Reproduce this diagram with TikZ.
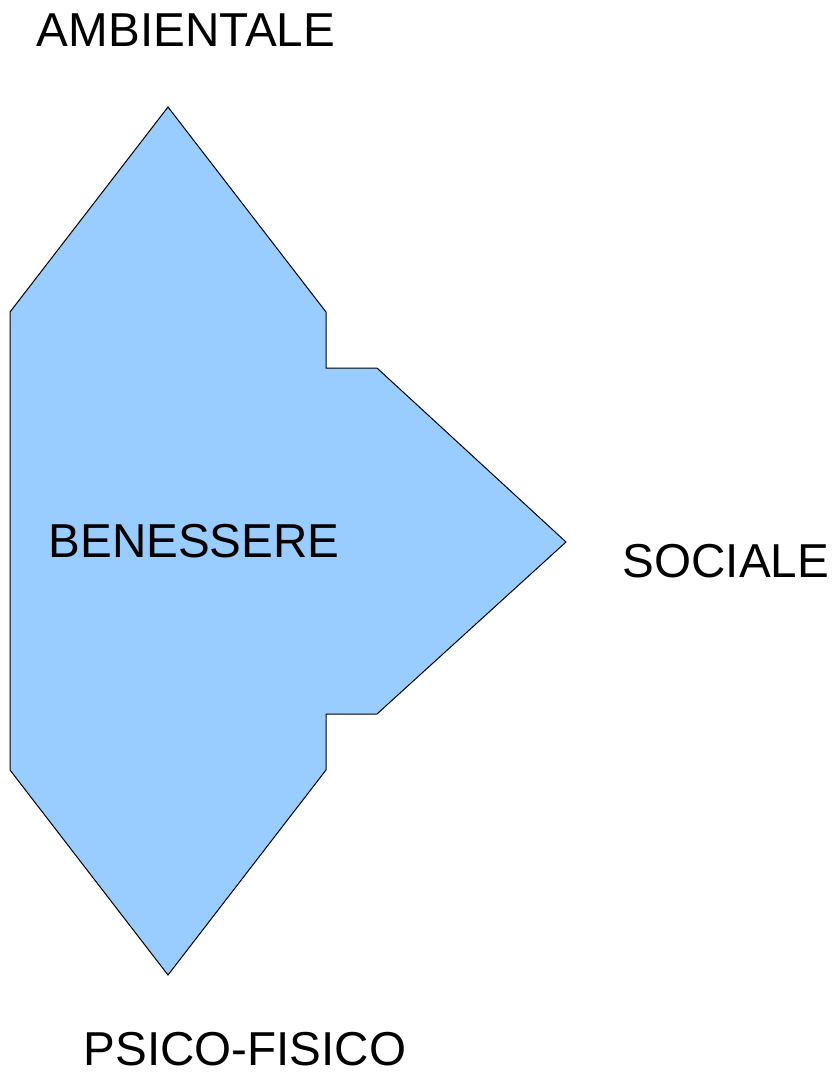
\documentclass[tikz,border=0pt]{standalone}
\usepackage{fontspec}
\setmainfont{Liberation Sans}
\definecolor{shapeblue}{HTML}{99CCFF}
\begin{document}
\begin{tikzpicture}[x=1pt,y=-1pt,
  lbl/.style={inner sep=0pt,font=\fontsize{47.6}{56}\selectfont}]
\useasboundingbox (0,0) rectangle (835,1072);
\draw[fill=shapeblue,line width=1pt,line join=miter]
  (168,107) -- (326,312) -- (326,368) -- (377,368) -- (566,542) -- (377,714)
  -- (326,714) -- (326,770) -- (168,975) -- (10,770) -- (10,312) -- cycle;
\node[lbl] (amb) at (186,30.5) {AMBIENTALE};
\node[lbl] (ben) at (194,541.5) {BENESSERE};
\node[lbl] (soc) at (726,561) {SOCIALE};
\node[lbl] (psi) at (245,1049.5) {PSICO-FISICO};
\end{tikzpicture}
\end{document}
